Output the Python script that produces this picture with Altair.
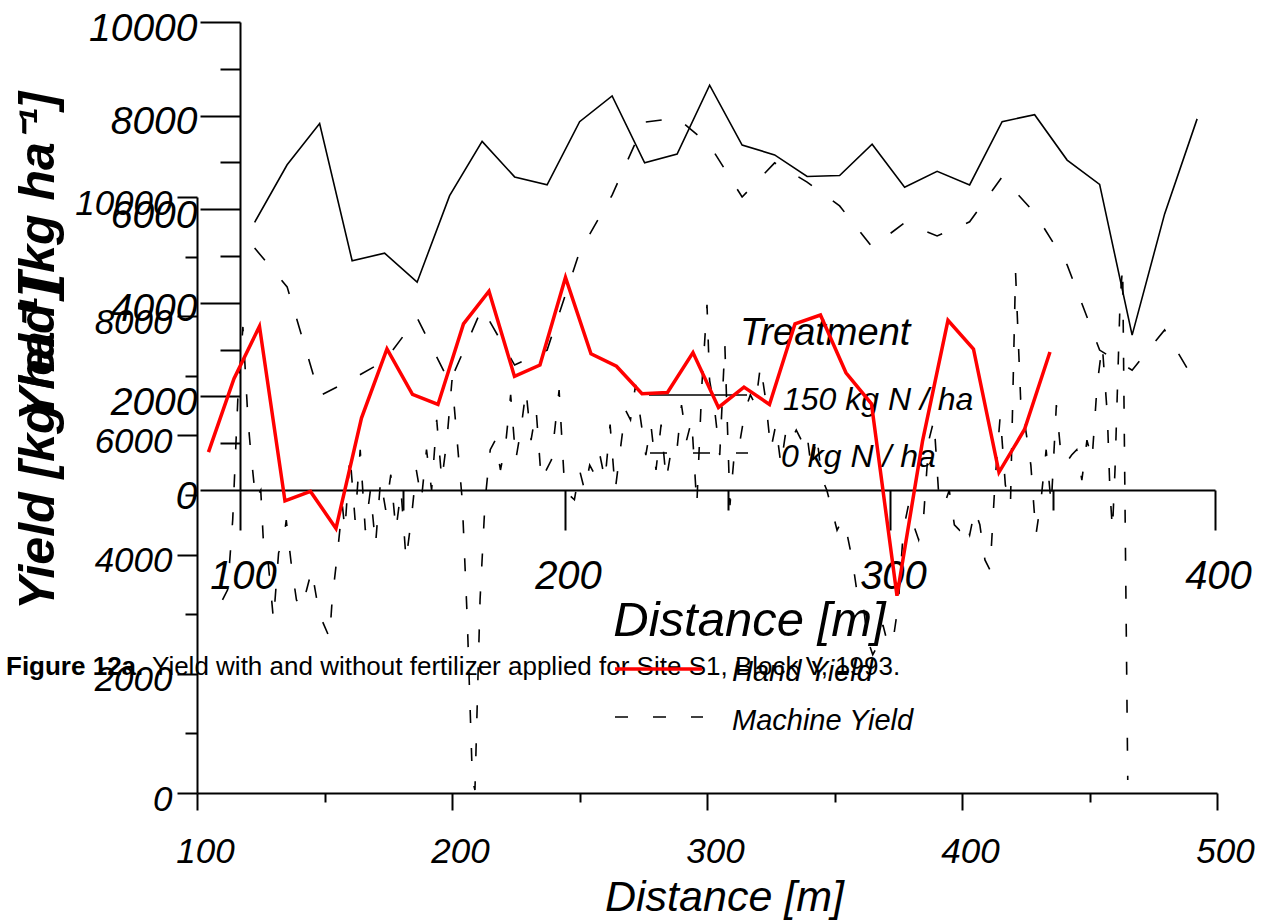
import altair as alt
import pandas as pd

FONT = "Liberation Sans"

# ---------------- data ----------------
# Treatment chart (back): distances of the hand-harvest plots
dist_a = [104.5, 114.5, 124.5, 134.5, 144.5, 154.5, 164.5, 174.5, 184.5, 194.5,
          204.5, 214.5, 224.5, 234.5, 244.5, 254.5, 264.5, 274.5, 284.5, 294.5,
          304.5, 314.5, 324.5, 334.5, 344.5, 354.5, 364.5, 374.5, 384.5, 394.5]
# 150 kg N / ha  (= Hand Yield in the front chart, which runs 4 plots further)
dist_b = [104.5, 114.5, 124.5, 134.5, 144.5, 154.5, 164.5, 174.5, 184.5, 194.5,
          204.5, 214.5, 224.5, 234.5, 244.5, 254.5, 264.5, 274.5, 284.5, 294.5,
          304.5, 314.5, 324.5, 334.5, 344.5, 354.5, 364.5, 374.5, 384.5, 394.5,
          404.5, 414.5, 424.5, 434.5]
yield_150 = [5720, 6950, 7830, 4900, 5060, 4440, 6290, 7450, 6690, 6520,
             7870, 8420, 6990, 7180, 8650, 7370, 7160, 6700, 6720, 7390,
             6470, 6810, 6520, 7870, 8020, 7050, 6530, 3310, 5900, 7930,
             7450, 5380, 6100, 7400]
yield_0 = [5170, 4340, 2010, 2370, 2760, 3680, 2290, 3890, 2670, 2990,
           5090, 6300, 7860, 7950, 7370, 6260, 6990, 6580, 6070, 5190,
           5710, 5430, 5730, 6690, 5920, 4810, 2990, 2560, 3420, 2240]

machine_dist = [110, 112, 114, 116, 118, 120, 121, 123, 125, 126, 128, 130, 132, 134, 135,
                137, 139, 141, 143, 145, 147, 149, 152, 153, 155, 157, 158, 160, 162, 164,
                166, 168, 170, 172, 174, 176, 178, 180, 182, 184, 186, 188, 190, 192, 194,
                196, 198, 200, 202, 204, 206, 208, 209, 211, 213, 215, 217, 219, 221, 223,
                225, 227, 229, 231, 233, 235, 237, 239, 242, 244, 246, 248, 250, 252, 254,
                256, 258, 260, 262, 264, 266, 268, 270, 272, 274, 276, 278, 280, 282, 284,
                286, 288, 290, 292, 294, 296, 298, 300, 301, 303, 305, 307, 309, 311, 313,
                315, 317, 319, 321, 323, 325, 327, 329, 331, 333, 335, 337, 339, 341, 343,
                345, 347, 349, 351, 353, 355, 357, 359, 361, 363, 365, 367, 369, 371, 373,
                375, 377, 379, 381, 383, 385, 387, 389, 391, 393, 395, 397, 399, 401, 403,
                405, 407, 409, 411, 413, 415, 417, 419, 421, 423, 425, 427, 429, 431, 433,
                435, 437, 439, 441, 443, 445, 447, 449, 451, 453, 455, 457, 458, 459, 460,
                462, 463, 465]
machine_yield = [3240, 3410, 4580, 6600, 7820, 6260, 5760, 4920, 5080, 4250, 3830, 2900, 4030, 4250, 4580,
                 3830, 3240, 3100, 3410, 3740, 3240, 2900, 2600, 3240, 3990, 4830, 4410, 5670, 4580, 5760,
                 4410, 5080, 4160, 5250, 4750, 5340, 4410, 5080, 3910, 4580, 5420, 4920, 5760, 5080, 6260,
                 5250, 5920, 6930, 5920, 4920, 2900, 220, 50, 3240, 4920, 5760, 5920, 5420, 5840, 6680,
                 5590, 6090, 6760, 5920, 6430, 5250, 5420, 5590, 6760, 5250, 5000, 4920, 5420, 5080, 5500,
                 5340, 5670, 5250, 6180, 5080, 5760, 6430, 6260, 6850, 6260, 5670, 6180, 5420, 6180, 5250,
                 5760, 5670, 6510, 5920, 6260, 4830, 6850, 8190, 6930, 6430, 5670, 7520, 4830, 5840, 5920,
                 6430, 6680, 6510, 7180, 6600, 5760, 6180, 5500, 6090, 5920, 6090, 5920, 6090, 5420, 6010,
                 5290, 5080, 4750, 4410, 4580, 4330, 3910, 3320, 3240, 2570, 2320, 2480, 2820, 2480, 2570,
                 3160, 4410, 4830, 4500, 4250, 4670, 5920, 6260, 4920, 4830, 5080, 4500, 4410, 4580, 4330,
                 4750, 4500, 3910, 3740, 5250, 6340, 5170, 4830, 8740, 6600, 6090, 5500, 4330, 4920, 5760,
                 4830, 6510, 5590, 5550, 5670, 5760, 5250, 5920, 5590, 6850, 7520, 6340, 5080, 4410, 5420,
                 8270, 8840, 220]

assert len(machine_dist) == len(machine_yield)

a_x_major = [100, 200, 300, 400]
a_x_minor = [150, 250, 350]
b_x_major = [100, 200, 300, 400, 500]
b_x_minor = [150, 250, 350, 450]
y_major = [0, 2000, 4000, 6000, 8000, 10000]
y_minor = [1000, 3000, 5000, 7000, 9000]

df_150 = pd.DataFrame({"distance": dist_a, "yield": yield_150[:len(dist_a)]})
df_0 = pd.DataFrame({"distance": dist_a, "yield": yield_0})
df_hand = pd.DataFrame({"distance": dist_b, "yield": yield_150})
df_machine = pd.DataFrame({"distance": machine_dist, "yield": machine_yield})

# ---------------- scales ----------------
scA_x = alt.Scale(domain=[100, 400], range=[240, 1215], nice=False, zero=False)
scA_y = alt.Scale(domain=[0, 10000], range=[490, 22], nice=False, zero=False)
scB_x = alt.Scale(domain=[100, 500], range=[197, 1217], nice=False, zero=False)
scB_y = alt.Scale(domain=[0, 10000], range=[793, 197], nice=False, zero=False)

common = dict(domainColor="black", tickColor="black", labelColor="black", titleColor="black",
              grid=False, labelFont=FONT, titleFont=FONT, labelFontStyle="italic",
              labelFlush=False, labelOverlap=False, tickWidth=2, domainWidth=2, format="d")

axA_x = alt.Axis(orient="bottom", offset=-432, values=a_x_major, tickSize=40, labelFontSize=40,
                 labelPadding=26, labelOffset=3, title="Distance [m]", titleFontSize=49,
                 titleFontStyle="italic", titleFontWeight="normal", titleX=749, titleY=145,
                 titleBaseline="alphabetic", titleAlign="center", titleAngle=0, **common)
axA_y = alt.Axis(orient="left", offset=-240, values=y_major, tickSize=40, labelFontSize=39,
                 labelPadding=3, labelOffset=6, labelAlign="right", labelBaseline="middle",
                 title="Yield [kg ha⁻¹]", titleFontSize=50, titleFontStyle="italic",
                 titleFontWeight="bold", titleX=-187, titleY=256, titleAngle=270,
                 titleAlign="center", titleBaseline="alphabetic", **common)
axA_x_minor = alt.Axis(orient="bottom", offset=-432, values=a_x_minor, tickSize=20, tickWidth=2,
                       tickColor="black", domain=False, labels=False, grid=False, title="")
axA_y_minor = alt.Axis(orient="left", offset=-240, values=y_minor, tickSize=20, tickWidth=2,
                       tickColor="black", domain=False, labels=False, grid=False, title="")

axB_x = alt.Axis(orient="bottom", offset=-129, values=b_x_major, tickSize=17, labelFontSize=35,
                 labelPadding=24, labelOffset=8, title="Distance [m]", titleFontSize=43,
                 titleFontStyle="italic", titleFontWeight="normal", titleX=724, titleY=117,
                 titleBaseline="alphabetic", titleAlign="center", titleAngle=0, **common)
axB_y = alt.Axis(orient="left", offset=-197, values=y_major, tickSize=20, labelFontSize=35,
                 labelPadding=5, labelOffset=6, labelAlign="right", labelBaseline="middle",
                 title="Yield [kg ha⁻¹]", titleFontSize=50, titleFontStyle="italic",
                 titleFontWeight="bold", titleX=-144, titleY=445, titleAngle=270,
                 titleAlign="center", titleBaseline="alphabetic", **common)
axB_x_minor = alt.Axis(orient="bottom", offset=-129, values=b_x_minor, tickSize=9, tickWidth=2,
                       tickColor="black", domain=False, labels=False, grid=False, title="")
axB_y_minor = alt.Axis(orient="left", offset=-197, values=y_minor, tickSize=12, tickWidth=2,
                       tickColor="black", domain=False, labels=False, grid=False, title="")

# ---------------- marks ----------------
a_solid = alt.Chart(df_150).mark_line(color="black", strokeWidth=1.6).encode(
    x=alt.X("distance:Q", scale=scA_x, axis=axA_x),
    y=alt.Y("yield:Q", scale=scA_y, axis=axA_y))
a_dash = alt.Chart(df_0).mark_line(color="black", strokeWidth=1.6, strokeDash=[16, 26]).encode(
    x=alt.X("distance:Q", scale=scA_x, axis=axA_x_minor),
    y=alt.Y("yield:Q", scale=scA_y, axis=axA_y_minor))

b_machine = alt.Chart(df_machine).mark_line(color="black", strokeWidth=1.6, strokeDash=[13, 25]).encode(
    x=alt.X("distance:Q", scale=scB_x, axis=axB_x),
    y=alt.Y("yield:Q", scale=scB_y, axis=axB_y))
b_hand = alt.Chart(df_hand).mark_line(color="#ff0000", strokeWidth=3.5).encode(
    x=alt.X("distance:Q", scale=scB_x, axis=axB_x_minor),
    y=alt.Y("yield:Q", scale=scB_y, axis=axB_y_minor))


def label(txt, x, y, size, style="italic", weight="normal"):
    return alt.Chart(pd.DataFrame({"t": [txt]})).mark_text(
        font=FONT, fontSize=size, fontStyle=style, fontWeight=weight, align="left",
        baseline="alphabetic", color="black").encode(
        text="t:N", x=alt.value(x), y=alt.value(y))


def sample(x1, x2, y, color, width, dash=None):
    kw = dict(color=color, strokeWidth=width)
    if dash:
        kw["strokeDash"] = dash
    return alt.Chart(pd.DataFrame({"k": [0]})).mark_rule(**kw).encode(
        x=alt.value(x1), x2=alt.value(x2), y=alt.value(y))


legend_a = [
    label("Treatment", 740, 345, 38),
    sample(649, 747, 395, "black", 1.6),
    label("150 kg N / ha", 783, 410, 32),
    sample(650, 748, 453, "black", 1.6, [17, 26]),
    label("0 kg N / ha", 781, 467, 32),
]
caption = [
    label("Figure 12a.", 6, 675, 26, style="normal", weight="bold"),
    label("Yield with and without fertilizer applied for Site S1, Block V, 1993.", 152, 675, 26,
          style="normal"),
]
legend_b = [
    sample(615, 702, 669, "#ff0000", 3.5),
    label("Hand Yield", 732, 681, 29),
    sample(615, 703, 717, "black", 1.6, [13, 25]),
    label("Machine Yield", 732, 730, 29),
]

chart = alt.layer(
    a_solid, a_dash, *legend_a, *caption, b_machine, b_hand, *legend_b
).resolve_scale(
    x="independent", y="independent"
).resolve_axis(
    x="independent", y="independent"
).properties(
    width=1267, height=922, padding=0, background="white",
    autosize=alt.AutoSizeParams(type="none")
).configure_view(strokeWidth=0)

chart.save("out.html", embed_options={"renderer": "svg", "actions": False})
